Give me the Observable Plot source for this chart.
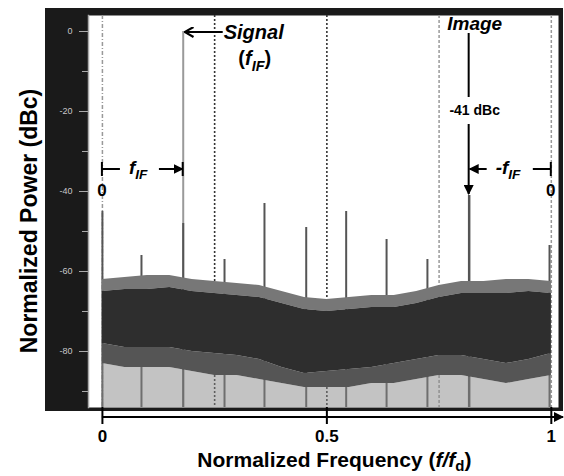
<!DOCTYPE html>
<html><head><meta charset="utf-8">
<script src="https://cdn.jsdelivr.net/npm/d3@7"></script>
<script src="https://cdn.jsdelivr.net/npm/@observablehq/plot@0.6"></script>
<style>
body{margin:0;background:#fff;}
#wrap{position:relative;width:564px;height:476px;overflow:hidden;}
#bg{position:absolute;left:45px;top:8px;width:518px;height:403px;background:#1a1a1a;}
#chart{position:absolute;left:0;top:0;}
</style></head><body>
<div id="wrap"><div id="bg"></div><div id="chart"></div></div>
<script>
// ---- data ----
const freq = [0,0.05,0.1,0.15,0.2,0.25,0.3,0.35,0.4,0.45,0.5,0.55,0.6,0.65,0.7,0.75,0.8,0.85,0.9,0.95,1];
const noisePeakDb    = [-62,-61.5,-61,-61,-62,-62.5,-63,-63.5,-65,-66.5,-67,-66.5,-66,-66,-65,-63.5,-62.5,-62.5,-62,-62,-62.5];
const noiseCoreTopDb = [-65,-64.5,-64.5,-64,-65,-65.5,-66,-66.5,-68,-69.5,-70,-69.5,-69,-69,-68,-66.5,-65.5,-65.5,-65.5,-65,-65.5];
const noiseCoreBotDb = [-78,-79,-79,-79,-80,-80.5,-81,-82,-84,-85.5,-85,-84.5,-84,-83,-82,-81,-81,-82,-83,-82,-80.5];
const noiseLowDb     = [-83,-84,-84,-84,-85,-86,-86,-87,-88,-89,-89,-89,-88,-88,-87,-86,-86,-87,-88,-87,-86];
const spurFreq = [0,0.087,0.272,0.361,0.454,0.543,0.633,0.724,0.996];
const spurDb   = [-45,-56,-57,-43,-49,-45,-52,-57,-53.5];
const signalFreq = 0.18, signalDb = 0, signalSpurDb = -48;
const imageFreq = 0.817, imageDb = -41;
const guideFreq = [0,0.25,0.5,0.75,1];
const yMajorTicks = [0,-20,-40,-60,-80];
const yMinorTicks = [-10,-30,-50,-70,-90];
const xTicks = [0,0.5,1];
const xDomain = [-0.031,1.016];
const yDomain = [-94,4];
const bracketDb = -34.5;

const noise = freq.map((f,i)=>({f, peak:noisePeakDb[i], top:noiseCoreTopDb[i], bot:noiseCoreBotDb[i], low:noiseLowDb[i], floor:yDomain[0]}));
const spurs = spurFreq.map((f,i)=>({f, db:spurDb[i], base:yDomain[0]}));

const W = 564, H = 476;
const FONT = "'Liberation Sans', Arial, sans-serif";

const plot = Plot.plot({
  width: W, height: H,
  marginLeft: 88, marginRight: 6, marginTop: 15, marginBottom: 69,
  style: {background: "transparent", fontFamily: FONT, overflow: "visible"},
  x: {domain: xDomain},
  y: {domain: yDomain},
  marks: [
    Plot.frame({fill: "white", stroke: null}),
    Plot.ruleX([guideFreq[0]], {stroke: "#999", strokeWidth: 1.5, strokeDasharray: "4,2,1,2"}),
    Plot.ruleX([guideFreq[1], guideFreq[2]], {stroke: "#333", strokeWidth: 1.6, strokeDasharray: "2,2"}),
    Plot.ruleX([guideFreq[3], guideFreq[4]], {stroke: "#999", strokeWidth: 1.5, strokeDasharray: "3,2"}),
    Plot.ruleX(spurs, {x: "f", y1: "base", y2: "db", stroke: "#555", strokeWidth: 2}),
    Plot.ruleX([signalFreq], {y1: yDomain[0], y2: signalDb, stroke: "#9a9a9a", strokeWidth: 2}),
    Plot.ruleX([signalFreq], {y1: yDomain[0], y2: signalSpurDb, stroke: "#555", strokeWidth: 2}),
    Plot.ruleX([imageFreq], {y1: yDomain[0], y2: imageDb, stroke: "#555", strokeWidth: 2.5}),
    Plot.areaY(noise, {x: "f", y1: "low", y2: "floor", fill: "#888", fillOpacity: 0.5}),
    Plot.areaY(noise, {x: "f", y1: "bot", y2: "low", fill: "#555"}),
    Plot.areaY(noise, {x: "f", y1: "top", y2: "peak", fill: "#777"}),
    Plot.areaY(noise, {x: "f", y1: "bot", y2: "top", fill: "#2e2e2e"}),
    Plot.frame({anchor: "left", stroke: "#aaa", strokeWidth: 1.5}),
    Plot.axisY(yMajorTicks, {anchor: "left", tickSize: 9, tickPadding: 7, stroke: "#aaa", fill: "#c8c8c8", fontSize: 9, label: null, tickFormat: d => String(d)}),
    Plot.axisY(yMinorTicks, {anchor: "left", tickSize: 6, stroke: "#aaa", label: null, tickFormat: () => ""}),
    Plot.axisX(xTicks, {anchor: "bottom", tickSize: 17, tickPadding: 5, stroke: "#000", strokeWidth: 2, fill: "#000", fontSize: 17, fontWeight: "bold", label: null, tickFormat: d => String(d)})
  ]
});
document.getElementById("chart").appendChild(plot);

// ---- annotations positioned through the plot's own scales ----
const svg = d3.select(plot);
const sx = plot.scale("x"), sy = plot.scale("y");
const X = v => sx.apply(v), Y = v => sy.apply(v);
const defs = svg.append("defs");
defs.append("marker").attr("id","tri").attr("viewBox","0 0 10 10").attr("refX",9).attr("refY",5)
  .attr("markerUnits","userSpaceOnUse").attr("markerWidth",10).attr("markerHeight",10).attr("orient","auto")
  .append("path").attr("d","M0,0L10,5L0,10z").attr("fill","#000");
defs.append("marker").attr("id","chev").attr("viewBox","0 0 10 10").attr("refX",9).attr("refY",5)
  .attr("markerUnits","userSpaceOnUse").attr("markerWidth",11).attr("markerHeight",11).attr("orient","auto")
  .append("path").attr("d","M1,0.5L9,5L1,9.5").attr("fill","none").attr("stroke","#000").attr("stroke-width",2);

const g = svg.append("g").attr("font-family", FONT).attr("font-weight","bold").attr("text-anchor","start");
const line = (x1,y1,x2,y2,marker,w=2) => {
  const l = g.append("line").attr("x1",x1).attr("y1",y1).attr("x2",x2).attr("y2",y2)
    .attr("stroke","#000").attr("stroke-width",w);
  if (marker) l.attr("marker-end",`url(#${marker})`);
  return l;
};
function fIF(t, prefix, size, withParen) {
  if (withParen) t.append("tspan").text("(");
  t.append("tspan").attr("font-style","italic").text(prefix + "f");
  t.append("tspan").attr("font-style","italic").attr("font-size", size*0.72).attr("dy", size*0.28).text("IF");
  t.append("tspan").attr("dy", -size*0.28).text(withParen ? ")" : "");
}

// Signal
const xs = X(signalFreq), ys = Y(signalDb);
line(xs + 40, ys + 1, xs + 2, ys + 1, "chev");
g.append("text").attr("x", xs + 41).attr("y", ys + 8).attr("font-size",20).attr("font-style","italic").attr("text-anchor","start").text("Signal");
fIF(g.append("text").attr("x", xs + 72).attr("y", ys + 34).attr("font-size",20).attr("text-anchor","middle"), "", 20, true);

// f_IF bracket (left)
const yb = Y(bracketDb), x0 = X(0), x1 = X(1), xi = X(imageFreq);
line(x0, yb - 7, x0, yb + 7, null);
line(x0, yb, x0 + 18, yb, null);
fIF(g.append("text").attr("x", x0 + 27).attr("y", yb + 5).attr("font-size",19).attr("text-anchor","start"), "", 19, false);
line(x0 + 57, yb, xs, yb, "tri");
line(xs, yb - 7, xs, yb + 7, null);
g.append("text").attr("x", x0).attr("y", yb + 26.5).attr("font-size",17).attr("text-anchor","middle").text("0");

// -f_IF bracket (right)
line(xi + 18, yb, xi + 1, yb, "tri");
fIF(g.append("text").attr("x", xi + 27).attr("y", yb + 5).attr("font-size",19).attr("text-anchor","start"), "-", 19, false);
line(x1 - 18, yb, x1, yb, null);
line(x1, yb - 7, x1, yb + 7, null);
g.append("text").attr("x", x1).attr("y", yb + 27).attr("font-size",17).attr("text-anchor","middle").text("0");

// Image
const yTop = Y(yDomain[1]), yi = Y(imageDb);
g.append("text").attr("x", xi + 6).attr("y", yTop + 15).attr("font-size",19).attr("font-style","italic").attr("text-anchor","middle").text("Image");
line(xi, yTop + 18, xi, yTop + 82, null);
g.append("text").attr("x", xi + 6).attr("y", yTop + 100).attr("font-size",14).attr("text-anchor","middle").text(`${imageDb} dBc`);
line(xi, yTop + 109, xi, yi - 1, "tri");

// x axis line with arrow below the frame
const yAxisLine = Y(yDomain[0]) + 10;
line(x0, yAxisLine, X(xDomain[1]) + 5, yAxisLine, "tri");

// axis titles
const xt = g.append("text").attr("x", (x0 + x1) / 2 + 8).attr("y", H - 9).attr("font-size",21).attr("text-anchor","middle");
xt.append("tspan").text("Normalized Frequency (");
xt.append("tspan").attr("font-style","italic").text("f/f");
xt.append("tspan").attr("font-size",15).attr("dy",4).text("d");
xt.append("tspan").attr("dy",-4).text(")");
g.append("text").attr("transform", `translate(37,${(Y(yDomain[0]) + Y(yDomain[1])) / 2 + 10}) rotate(-90)`)
  .attr("font-size",23).attr("text-anchor","middle").text("Normalized Power (dBc)");
</script>
</body></html>
